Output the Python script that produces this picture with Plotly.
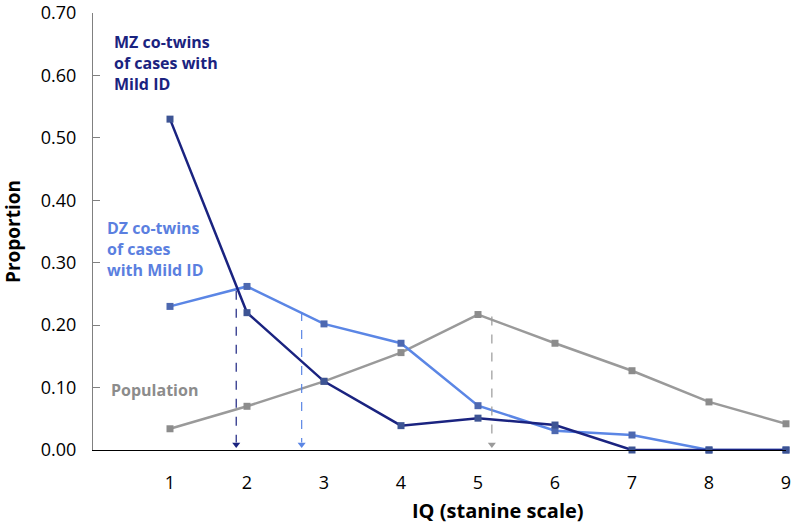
import plotly.graph_objects as go

stanine = [1, 2, 3, 4, 5, 6, 7, 8, 9]
mz_cotwins = [0.53, 0.22, 0.11, 0.039, 0.051, 0.040, 0.0, 0.0, 0.0]
dz_cotwins = [0.23, 0.262, 0.202, 0.171, 0.071, 0.031, 0.024, 0.0, 0.0]
population = [0.034, 0.070, 0.110, 0.156, 0.217, 0.171, 0.127, 0.077, 0.042]

# mean markers (dashed arrows)
arrow_x = [1.86, 2.71, 5.18]
arrow_top = [0.255, 0.221, 0.214]
arrow_colors = ["#1a2380", "#5b86e5", "#9a9a9a"]

y_ticks = [0.0, 0.1, 0.2, 0.3, 0.4, 0.5, 0.6, 0.7]
y_ticktext = ["%.2f" % v for v in y_ticks]

FONT = "Open Sans"

fig = go.Figure()

series = [
    (population, "#9a9a9a", "#8c8c8c"),
    (dz_cotwins, "#5b86e5", "#4d68b0"),
    (mz_cotwins, "#1a2380", "#3d5494"),
]
for ys, lc, mc in series:
    fig.add_trace(go.Scatter(
        x=stanine, y=ys, mode="lines+markers",
        line=dict(color=lc, width=2.5),
        marker=dict(symbol="square", size=7, color=mc),
        cliponaxis=False,
        showlegend=False, hoverinfo="skip"))

for ax_, top, c in zip(arrow_x, arrow_top, arrow_colors):
    fig.add_trace(go.Scatter(
        x=[ax_, ax_], y=[top, 0.012], mode="lines",
        line=dict(color=c, width=1.2, dash="dash"),
        showlegend=False, hoverinfo="skip"))
    fig.add_trace(go.Scatter(
        x=[ax_], y=[0.009], mode="markers",
        marker=dict(symbol="triangle-down", size=7, color=c),
        showlegend=False, hoverinfo="skip"))

L, R, T, B = 93, 786, 13, 450
W, H = 793, 523


def px(x):
    return (x - L) / (R - L)


def py(y):
    return (B - y) / (B - T)


fig.update_layout(
    width=W, height=H,
    margin=dict(l=L, r=W - R, t=T, b=H - B, autoexpand=False),
    plot_bgcolor="white", paper_bgcolor="white",
    font=dict(family=FONT, color="black"),
    xaxis=dict(
        range=[0, 9], tickvals=stanine, ticktext=[str(v) for v in stanine],
        showgrid=False, zeroline=False, showline=True, linecolor="black",
        linewidth=1, ticks="", tickfont=dict(size=18, family=FONT),
        ticklabelstandoff=16, ticklabeloverflow="allow"),
    yaxis=dict(
        range=[0, 0.70], tickvals=y_ticks, ticktext=y_ticktext,
        showgrid=False, zeroline=False, showline=True, linecolor="#808080",
        linewidth=1.2, ticks="inside", ticklen=7, tickcolor="#808080",
        tickfont=dict(size=18, family=FONT), ticklabelstandoff=12,
        ticklabeloverflow="allow"),
    annotations=[
        dict(xref="paper", yref="paper", x=px(112), y=py(29), xanchor="left",
             yanchor="top", align="left", showarrow=False,
             text="<b>MZ co-twins<br>of cases with<br>Mild ID</b>",
             font=dict(size=16, color="#1a2380", family=FONT)),
        dict(xref="paper", yref="paper", x=px(105), y=py(215), xanchor="left",
             yanchor="top", align="left", showarrow=False,
             text="<b>DZ co-twins<br>of cases<br>with Mild ID</b>",
             font=dict(size=16, color="#5b7fe0", family=FONT)),
        dict(xref="paper", yref="paper", x=px(109), y=py(390), xanchor="left",
             yanchor="middle", align="left", showarrow=False,
             text="<b>Population</b>",
             font=dict(size=16, color="#8c8c8c", family=FONT)),
        dict(xref="paper", yref="paper", x=px(498), y=py(510), xanchor="center",
             yanchor="middle", showarrow=False,
             text="<b>IQ (stanine scale)</b>",
             font=dict(size=20, color="black", family=FONT)),
        dict(xref="paper", yref="paper", x=px(13), y=py(232), xanchor="center",
             yanchor="middle", showarrow=False, textangle=-90,
             text="<b>Proportion</b>",
             font=dict(size=19, color="black", family=FONT)),
    ],
)

fig.write_html("out.html", config={"displayModeBar": False},
               post_script="document.body.style.margin='0';")
